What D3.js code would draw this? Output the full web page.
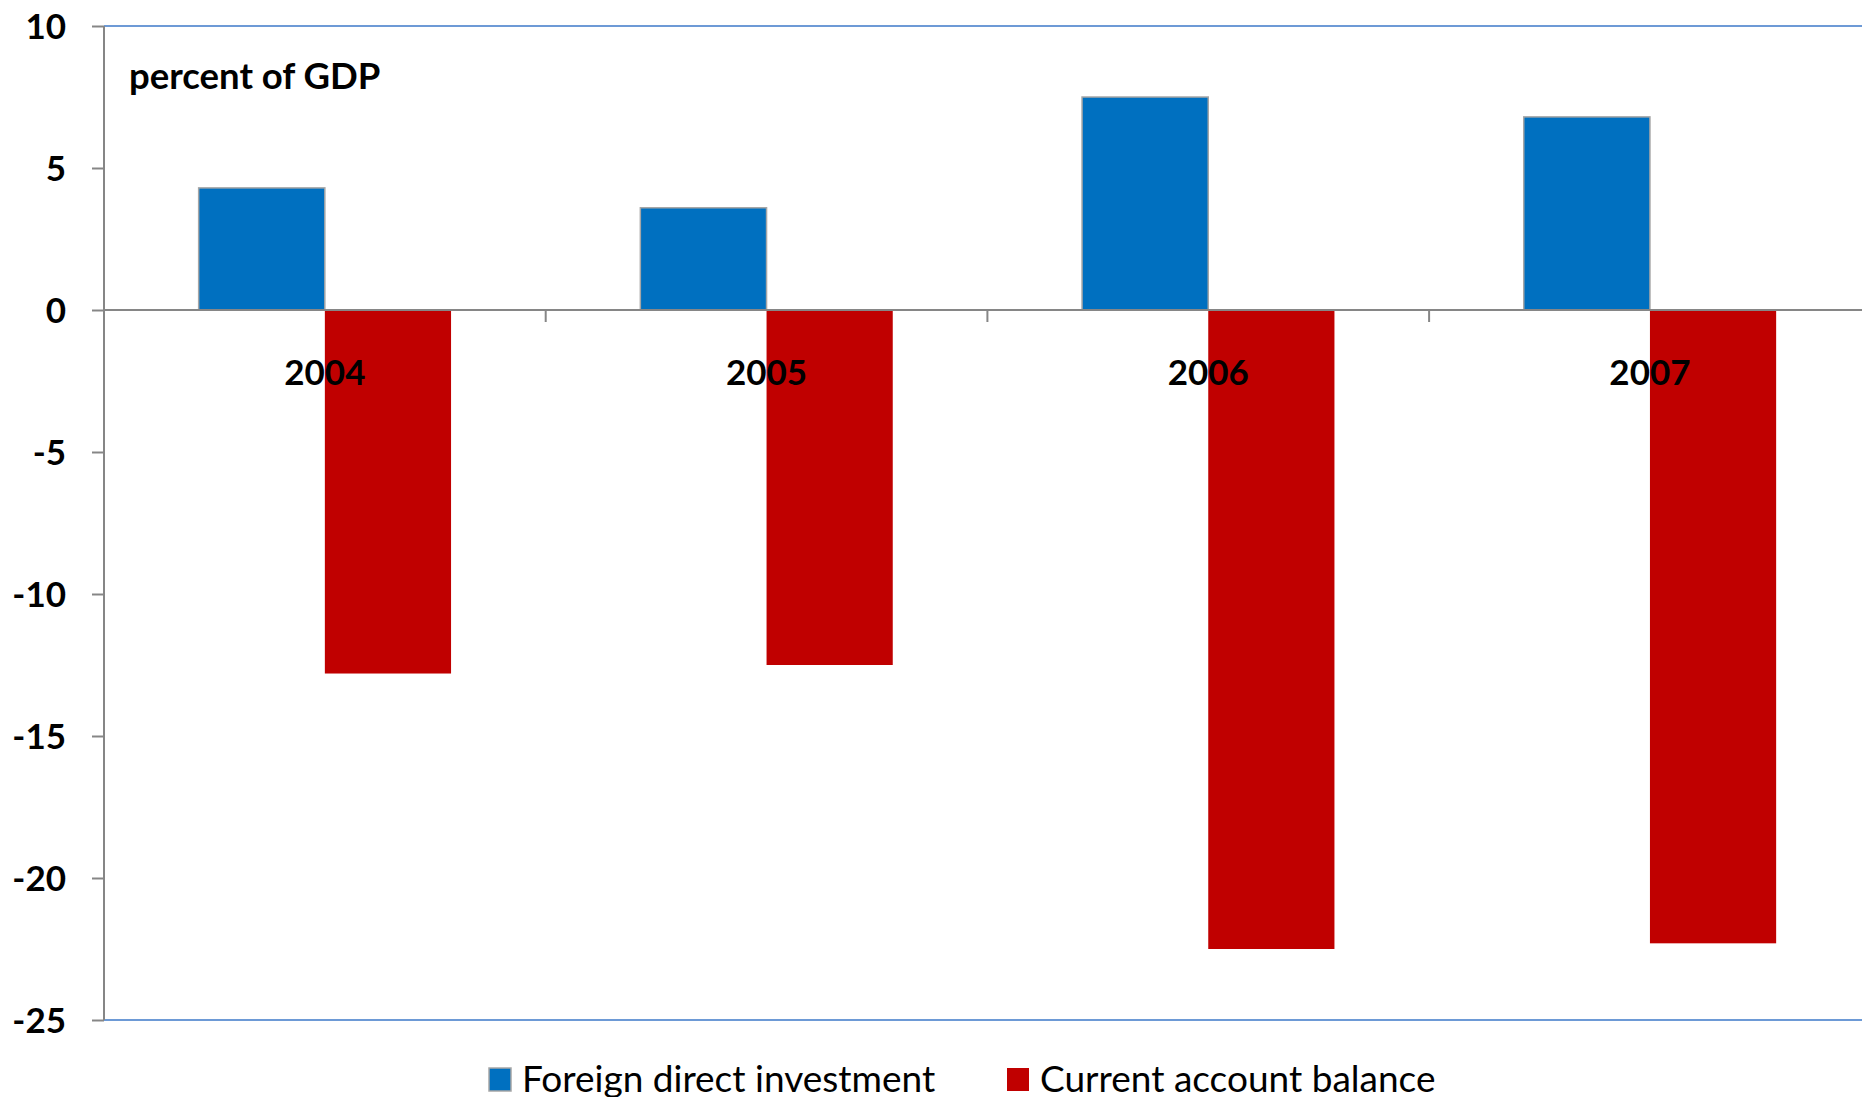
<!DOCTYPE html>
<html>
<head>
<meta charset="utf-8">
<script src="https://cdn.jsdelivr.net/npm/d3@7"></script>
<style>
  html, body { margin: 0; padding: 0; background: #fff; overflow: hidden; }
  text { font-family: Lato, "Open Sans", sans-serif; fill: #000; }
</style>
</head>
<body>
<div id="container"></div>
<script>
var years = ['2004', '2005', '2006', '2007'];
var seriesNames = ['Foreign direct investment', 'Current account balance'];
var fdi = [4.3, 3.6, 7.5, 6.8];
var currentAccount = [-12.8, -12.5, -22.5, -22.3];
var yTicks = [10, 5, 0, -5, -10, -15, -20, -25];
var colors = ['#0070c0', '#c00000'];

var W = 1862, H = 1097;
var plot = {left: 104, top: 26, bottom: 1020, catWidth: 441.7};

var svg = d3.select('#container')
    .append('svg')
        .attr('width', W)
        .attr('height', H)

var x0 = d3.scaleBand()
    .domain(years)
    .range([plot.left, plot.left + plot.catWidth * years.length])

// gap width 150%: each category holds 3.5 bar widths
var barW = plot.catWidth / 3.5
var x1 = d3.scaleBand()
    .domain(seriesNames)
    .range([barW * 0.75, barW * 2.75])

var y = d3.scaleLinear()
    .domain([-25, 10])
    .range([plot.bottom, plot.top])

// top and bottom frame lines
svg.selectAll('line.frame').data([10, -25])
    .enter().append('line')
        .attr('class', 'frame')
        .attr('x1', plot.left).attr('x2', W)
        .attr('y1', function(d) { return y(d) })
        .attr('y2', function(d) { return y(d) })
        .attr('stroke', '#6d9ad6')
        .attr('stroke-width', 2)

var rows = years.map(function(yr, i) {
    return [
        {year: yr, name: seriesNames[0], value: fdi[i], color: colors[0]},
        {year: yr, name: seriesNames[1], value: currentAccount[i], color: colors[1]}
    ]
})

var groups = svg.selectAll('g.year').data(rows)
    .enter().append('g')
        .attr('class', 'year')
        .attr('transform', function(d, i) { return 'translate(' + x0(years[i]) + ',0)' })

groups.selectAll('rect').data(function(d) { return d })
    .enter().append('rect')
        .attr('x', function(d) { return x1(d.name) })
        .attr('width', x1.bandwidth())
        .attr('y', function(d) { return y(Math.max(0, d.value)) })
        .attr('height', function(d) { return Math.abs(y(d.value) - y(0)) })
        .attr('fill', function(d) { return d.color })
        .attr('stroke', function(d) { return d.value > 0 ? '#a6a6a6' : 'none' })
        .attr('stroke-width', 1.5)

// y axis, plain hyphen for negatives like the source
var yAxis = d3.axisLeft(y).tickValues(yTicks).tickSize(12).tickPadding(26)
    .tickFormat(function(d) { return String(d) })
var yg = svg.append('g')
    .attr('transform', 'translate(' + plot.left + ',0)')
    .call(yAxis)
yg.select('.domain').attr('stroke', '#868686').attr('stroke-width', 2)
    .attr('d', 'M0,' + plot.top + 'V' + plot.bottom)
yg.selectAll('.tick line').attr('stroke', '#868686').attr('stroke-width', 2)
yg.selectAll('.tick text')
    .attr('font-family', 'Lato')
    .attr('font-size', 35)
    .attr('font-weight', 'bold')
    .attr('fill', '#000')
    .attr('dy', '0.36em')

// zero line with category ticks
var xAxis = d3.axisBottom(x0).tickSize(0).tickFormat('')
var xg = svg.append('g')
    .attr('transform', 'translate(0,' + y(0) + ')')
    .call(xAxis)
xg.select('.domain').attr('stroke', '#868686').attr('stroke-width', 2)
    .attr('d', 'M' + plot.left + ',0H' + W)
xg.selectAll('line.cat').data(years.slice(1))
    .enter().append('line')
        .attr('class', 'cat')
        .attr('x1', function(d) { return x0(d) })
        .attr('x2', function(d) { return x0(d) })
        .attr('y1', 0).attr('y2', 12)
        .attr('stroke', '#868686')
        .attr('stroke-width', 2)

svg.selectAll('text.cat').data(years)
    .enter().append('text')
        .attr('class', 'cat')
        .attr('x', function(d) { return x0(d) + x0.bandwidth() / 2 })
        .attr('y', 385)
        .attr('text-anchor', 'middle')
        .attr('font-size', 35)
        .attr('font-weight', 'bold')
        .text(function(d) { return d })

svg.append('text')
    .attr('x', 129)
    .attr('y', 89)
    .attr('font-size', 36.5)
    .attr('font-weight', 'bold')
    .text('percent of GDP')

// legend
var legendX = [489, 1007]
var legend = svg.selectAll('g.legend').data(seriesNames)
    .enter().append('g')
        .attr('class', 'legend')
        .attr('transform', function(d, i) { return 'translate(' + legendX[i] + ',1068)' })
legend.append('rect')
    .attr('width', 22).attr('height', 23)
    .attr('fill', function(d, i) { return colors[i] })
    .attr('stroke', function(d, i) { return i == 0 ? '#a6a6a6' : 'none' })
    .attr('stroke-width', 1.5)
legend.append('text')
    .attr('x', 33)
    .attr('y', 24)
    .attr('font-size', 37)
    .text(function(d) { return d })
</script>
</body>
</html>
